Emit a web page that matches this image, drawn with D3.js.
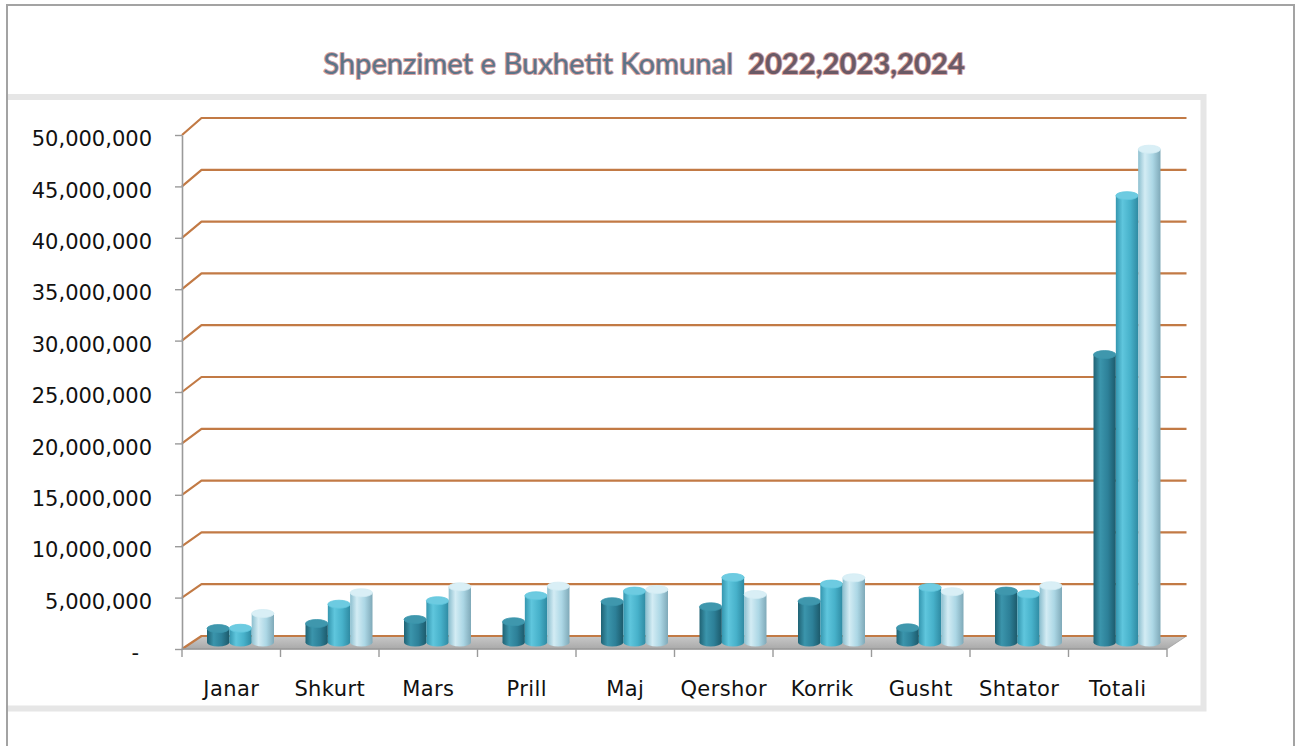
<!DOCTYPE html>
<html>
<head>
<meta charset="utf-8">
<script src="https://cdn.jsdelivr.net/npm/d3@7"></script>
<style>
  html, body { margin: 0; padding: 0; background: #ffffff; }
  svg { display: block; }
</style>
</head>
<body>
<svg id="chart" width="1297" height="746"></svg>
<script>
// ---- Data ----
const categories = ["Janar", "Shkurt", "Mars", "Prill", "Maj", "Qershor", "Korrik", "Gusht", "Shtator", "Totali"];
const seriesNames = ["2022", "2023", "2024"];
const values2022 = [1350000, 1840000, 2230000, 2010000, 3950000, 3460000, 4000000, 1420000, 4980000, 27900000];
const values2023 = [1380000, 3710000, 4050000, 4530000, 4980000, 6300000, 5660000, 5330000, 4690000, 43300000];
const values2024 = [2810000, 4820000, 5400000, 5460000, 5140000, 4650000, 6270000, 4920000, 5500000, 47800000];
const yTickValues = [0, 5000000, 10000000, 15000000, 20000000, 25000000, 30000000, 35000000, 40000000, 45000000, 50000000];
const titleMain = "Shpenzimet e Buxhetit Komunal\u00A0\u00A0";
const titleYears = "2022,2023,2024";

const seriesValues = [values2022, values2023, values2024];

// ---- Layout ----
const svg = d3.select("#chart");
const W = 1297, H = 746;
const depthX = 19.5;

const x = d3.scaleBand().domain(categories).range([182, 1167]).paddingInner(0).paddingOuter(0);
const xs = d3.scaleBand().domain(seriesNames).range([25, 92]);
const yFront = d3.scaleLinear().domain([0, 50000000]).range([649, 135]);
const yBack = d3.scaleLinear().domain([0, 50000000]).range([636, 118]);
const yMid = d3.scaleLinear().domain([0, 50000000]).range([642.5, 126.5]);

// ---- Defs ----
const defs = svg.append("defs");
const bodyStops = [
  ["#1f6274", "#3b95ac", "#2d8098", "#1c5a6b"],
  ["#3496af", "#5fc6dd", "#47b1ca", "#2f8aa2"],
  ["#8cbfcf", "#d3ecf4", "#acd7e5", "#7fa9b8"]
];
const capColors = ["#3f97ad", "#6dcbe1", "#d9eff6"];
bodyStops.forEach((st, i) => {
  const g = defs.append("linearGradient").attr("id", "body" + i)
    .attr("x1", "0%").attr("x2", "100%").attr("y1", "0%").attr("y2", "0%");
  [[0, st[0]], [0.3, st[1]], [0.65, st[2]], [1, st[3]]].forEach(s =>
    g.append("stop").attr("offset", s[0]).attr("stop-color", s[1]));
});
const fg = defs.append("linearGradient").attr("id", "floorGrad")
  .attr("x1", "0%").attr("x2", "0%").attr("y1", "0%").attr("y2", "100%");
fg.append("stop").attr("offset", 0).attr("stop-color", "#c9c9c9");
fg.append("stop").attr("offset", 1).attr("stop-color", "#a9a9a9");

// ---- Background / frames ----
svg.append("rect").attr("x", 0).attr("y", 0).attr("width", W).attr("height", H).attr("fill", "#ffffff");
svg.append("path")
  .attr("d", "M8,97 H1203.5 V708.5 H8")
  .attr("fill", "#ffffff").attr("stroke", "#e6e6e6").attr("stroke-width", 6);
svg.append("rect").attr("x", 7).attr("y", 5).attr("width", 1287).attr("height", 770)
  .attr("fill", "none").attr("stroke", "#a3a3a3").attr("stroke-width", 2);

// ---- Title ----
const title = svg.append("text")
  .attr("x", 644).attr("y", 74)
  .attr("text-anchor", "middle")
  .attr("font-family", "Lato, 'Open Sans', sans-serif")
  .attr("font-size", 27)
  .attr("paint-order", "stroke")
  .attr("stroke", "rgba(175,70,70,0.5)")
  .attr("stroke-width", 2)
  .attr("stroke-linejoin", "round");
title.append("tspan").attr("fill", "#5b7488").attr("font-weight", 400).text(titleMain);
title.append("tspan").attr("fill", "#6a5a66").attr("font-weight", 700).text(titleYears);
// fit title width to reference (~642px)
(function fitTitle() {
  const w = title.node().getComputedTextLength();
  if (w > 0) title.attr("font-size", 27 * 642 / w);
})();

// ---- Floor ----
const [x0, x1] = x.range();
svg.append("polygon")
  .attr("points", [
    [x0, yFront(0)], [x1, yFront(0)], [x1 + depthX, yBack(0)], [x0 + depthX, yBack(0)]
  ].map(p => p.join(",")).join(" "))
  .attr("fill", "url(#floorGrad)")
  .attr("stroke", "#a0a0a0").attr("stroke-width", 0.8);

// ---- Gridlines (side wall diagonal + back wall horizontal) ----
svg.append("g").selectAll("polyline").data(yTickValues).join("polyline")
  .attr("points", d => [[x0, yFront(d)], [x0 + depthX, yBack(d)], [x1 + depthX, yBack(d)]].map(p => p.join(",")).join(" "))
  .attr("fill", "none")
  .attr("stroke", "#c27a45")
  .attr("stroke-width", 2.2)
  .attr("stroke-linejoin", "round");

// ---- Y axis ----
const yAxis = d3.axisLeft(yFront)
  .tickValues(yTickValues)
  .tickSize(7)
  .tickSizeOuter(0)
  .tickPadding(23)
  .tickFormat(d => d === 0 ? "-" : d3.format(",")(d));
const yg = svg.append("g").attr("transform", `translate(${x0},0)`).call(yAxis);
yg.select(".domain").attr("stroke", "#9a9a9a").attr("stroke-width", 1.6);
yg.selectAll(".tick line").attr("stroke", "#9a9a9a").attr("stroke-width", 1.4);
yg.selectAll(".tick text")
  .attr("font-family", "'DejaVu Sans', sans-serif")
  .attr("font-size", 21)
  .attr("fill", "#111111")
  .attr("y", 4)
  .attr("dx", d => d === 0 ? -13 : 0);

// ---- X axis ticks at category boundaries ----
const boundaries = categories.map(c => x(c)).concat([x1]);
svg.append("g").selectAll("line").data(boundaries).join("line")
  .attr("x1", d => d).attr("x2", d => d)
  .attr("y1", yFront(0)).attr("y2", yFront(0) + 8)
  .attr("stroke", "#9a9a9a").attr("stroke-width", 1.4);
svg.append("line")
  .attr("x1", x0).attr("x2", x1).attr("y1", yFront(0)).attr("y2", yFront(0))
  .attr("stroke", "#9a9a9a").attr("stroke-width", 1.4);

// ---- X labels ----
svg.append("g").selectAll("text").data(categories).join("text")
  .attr("x", d => x(d) + x.bandwidth() / 2)
  .attr("y", 696)
  .attr("text-anchor", "middle")
  .attr("font-family", "'DejaVu Sans', sans-serif")
  .attr("font-size", 21)
  .attr("letter-spacing", 0.4)
  .attr("fill", "#111111")
  .text(d => d);

// ---- Cylinder bars ----
const barData = [];
categories.forEach((c, ci) => {
  seriesNames.forEach((s, si) => {
    barData.push({ cat: c, ser: s, si: si, value: seriesValues[si][ci] });
  });
});
const ry = 4;
const bars = svg.append("g").selectAll("g").data(barData).join("g");
bars.each(function (d) {
  const g = d3.select(this);
  const bx = x(d.cat) + xs(d.ser);
  const bw = xs.bandwidth();
  const top = yMid(d.value);
  const bottom = yMid(0);
  g.append("ellipse")
    .attr("cx", bx + bw / 2).attr("cy", bottom)
    .attr("rx", bw / 2).attr("ry", ry)
    .attr("fill", `url(#body${d.si})`);
  g.append("rect")
    .attr("x", bx).attr("y", top)
    .attr("width", bw).attr("height", Math.max(0, bottom - top))
    .attr("fill", `url(#body${d.si})`);
  g.append("ellipse")
    .attr("cx", bx + bw / 2).attr("cy", top)
    .attr("rx", bw / 2).attr("ry", ry)
    .attr("fill", capColors[d.si])
    .attr("stroke", bodyStops[d.si][1]).attr("stroke-width", 0.8);
});
</script>
</body>
</html>
